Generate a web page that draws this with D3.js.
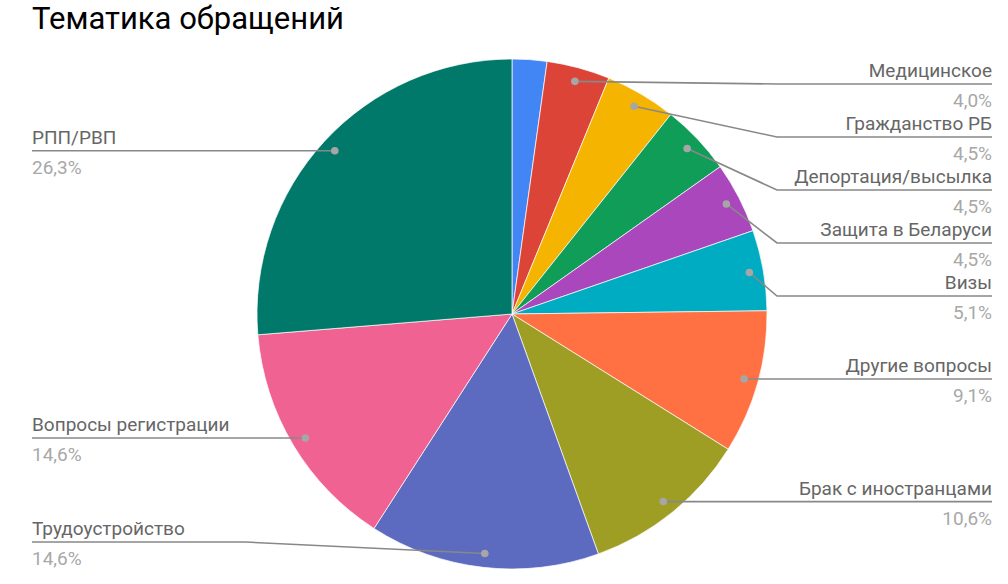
<!DOCTYPE html>
<html><head><meta charset="utf-8">
<script src="https://cdn.jsdelivr.net/npm/d3@7/dist/d3.min.js"></script>
<style>
html,body{margin:0;padding:0;background:#fff;}
svg{display:block;font-family:Roboto,"Noto Sans",sans-serif;}
</style></head>
<body>
<svg id="chart" width="1008" height="584"></svg>
<script>
const title = "Тематика обращений";
const categories = ["", "Медицинское", "Гражданство РБ", "Депортация/высылка", "Защита в Беларуси", "Визы", "Другие вопросы", "Брак с иностранцами", "Трудоустройство", "Вопросы регистрации", "РПП/РВП"];
const values = [2.2, 4.0, 4.5, 4.5, 4.5, 5.1, 9.1, 10.6, 14.6, 14.6, 26.3];
const percentLabels = ["", "4,0%", "4,5%", "4,5%", "4,5%", "5,1%", "9,1%", "10,6%", "14,6%", "14,6%", "26,3%"];
const colors = ["#4285f4", "#db4437", "#f4b400", "#0f9d58", "#ab47bc", "#00acc1", "#ff7043", "#9e9d24", "#5c6bc0", "#f06292", "#00796b"];

const svg = d3.select("#chart");
const cx = 512, cy = 314, R = 255;

svg.append("text").attr("x", 32).attr("y", 29)
  .attr("font-size", 31).attr("fill", "#000").text(title);

const data = categories.map((c, i) => ({name: c, value: values[i], pct: percentLabels[i], color: colors[i]}));
const pie = d3.pie().value(d => d.value).sort(null);
const arcs = pie(data);
const arc = d3.arc().innerRadius(0).outerRadius(R);

const g = svg.append("g").attr("transform", `translate(${cx},${cy})`);
g.selectAll("path").data(arcs).enter().append("path")
  .attr("d", arc).attr("fill", d => d.data.color)
  .attr("stroke", "#fff").attr("stroke-width", 0.7);

// label layout
const dotR = R * 0.945;
const items = arcs.filter(a => a.data.name !== "").map(a => {
  const m = (a.startAngle + a.endAngle) / 2;
  return {a, m, x: cx + dotR * Math.sin(m), y: cy - dotR * Math.cos(m), side: m < Math.PI ? "right" : "left"};
});
const topBound = 84, botBound = 542, gap = 53;
["right", "left"].forEach(side => {
  const list = items.filter(d => d.side === side).sort((p, q) => p.y - q.y);
  list.forEach(d => d.ly = Math.min(Math.max(d.y, topBound), botBound));
  for (let i = 1; i < list.length; i++) list[i].ly = Math.max(list[i].ly, list[i - 1].ly + gap);
  for (let i = list.length - 1; i >= 0; i--) {
    if (i === list.length - 1) list[i].ly = Math.min(list[i].ly, botBound);
    else list[i].ly = Math.min(list[i].ly, list[i + 1].ly - gap);
  }
});

const lg = svg.append("g");
items.forEach(d => {
  const right = d.side === "right";
  const elbowX = right ? cx + R + 10 : cx - R - 12;
  const endX = right ? 992 : 32;
  lg.append("polyline")
    .attr("points", `${d.x},${d.y} ${elbowX},${d.ly} ${endX},${d.ly}`)
    .attr("fill", "none").attr("stroke", "#888").attr("stroke-width", 1.6);
  lg.append("circle").attr("cx", d.x).attr("cy", d.y).attr("r", 3.8).attr("fill", "#a6a6a6");
  lg.append("text").attr("x", endX).attr("y", d.ly - 7)
    .attr("text-anchor", right ? "end" : "start")
    .attr("font-size", 19).attr("fill", "#666").text(d.a.data.name);
  lg.append("text").attr("x", endX).attr("y", d.ly + 23)
    .attr("text-anchor", right ? "end" : "start")
    .attr("font-size", 19).attr("fill", "#a8a8a8").text(d.a.data.pct);
});
</script>
</body></html>
